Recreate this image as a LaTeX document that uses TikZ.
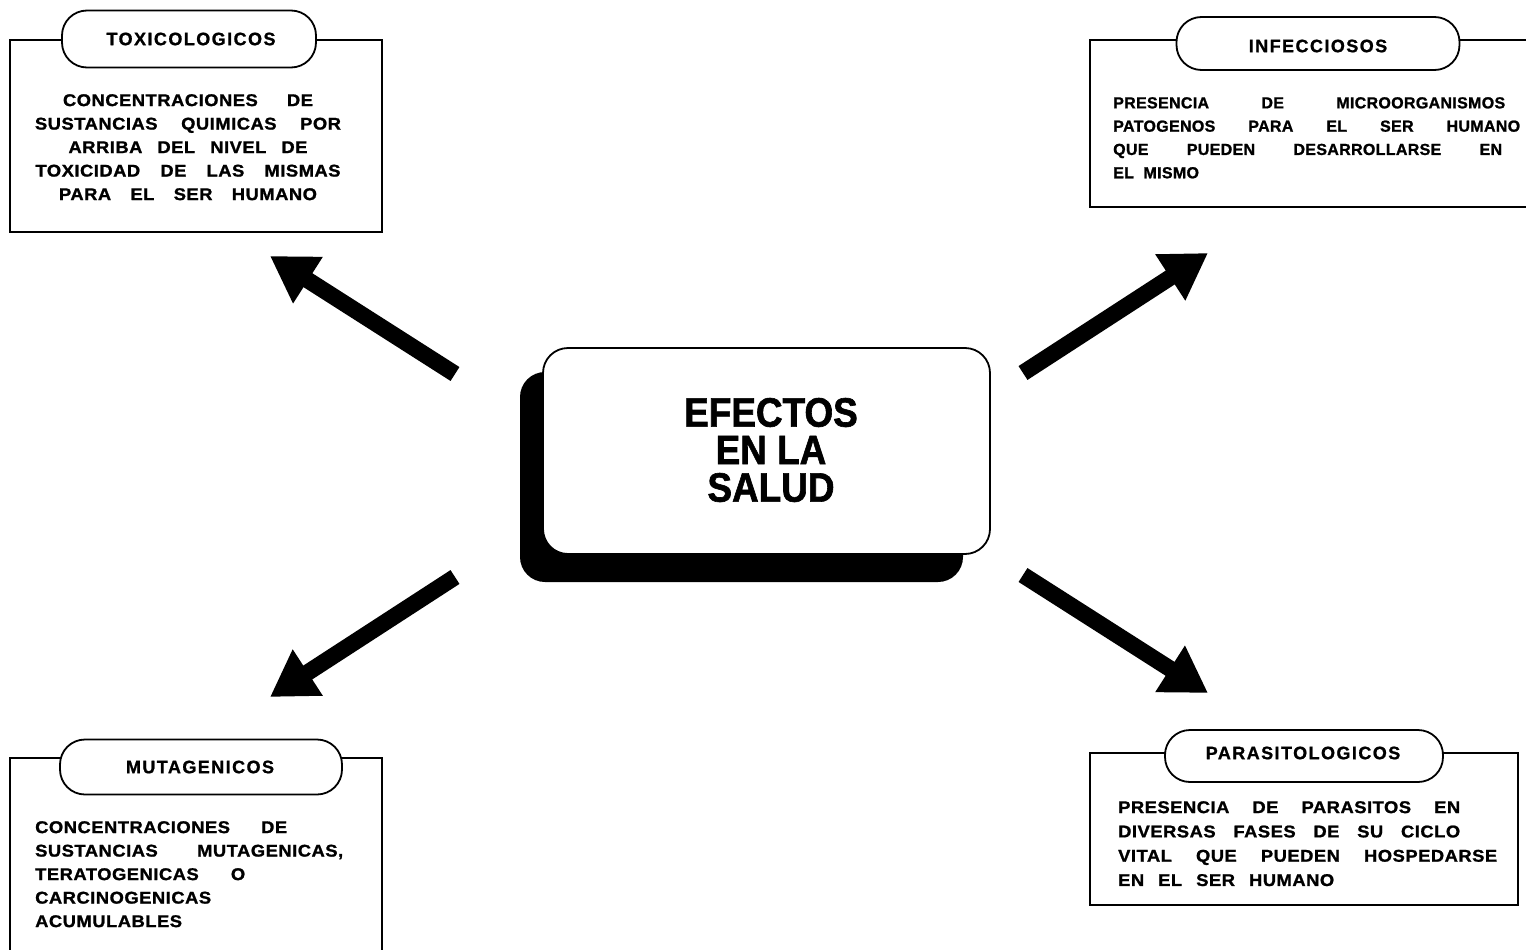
\documentclass[tikz,border=0pt]{standalone}
\usepackage{fontspec}
\usetikzlibrary{arrows.meta}
\setmainfont{Liberation Sans}
\newfontfamily\titlefont[LetterSpace=8,FakeBold=1]{Liberation Sans}
\newfontfamily\bodyfont[LetterSpace=3,WordSpace=2.5,FakeBold=1.2,FakeStretch=1.08]{Liberation Sans}
\newfontfamily\bodyfontnarrow[LetterSpace=2,WordSpace=2,FakeBold=1.2]{Liberation Sans}
\newfontfamily\bigfont[FakeStretch=0.9,FakeBold=1.5]{Liberation Sans}

\tikzset{
  frame/.style={draw, line width=1.8pt, fill=white, inner sep=0pt},
  capsule/.style={draw, line width=1.8pt, fill=white, rounded corners=25pt, inner sep=0pt},
  captext/.style={inner sep=0pt, font=\titlefont\fontsize{18}{18}\selectfont\bfseries},
  bodytext/.style={inner sep=0pt, font=\bodyfont\fontsize{17}{23.5}\selectfont\bfseries},
  bodytextnarrow/.style={inner sep=0pt, font=\bodyfontnarrow\fontsize{16}{23.3}\selectfont\bfseries},
  mainbox/.style={draw, line width=1.8pt, fill=white, rounded corners=25pt, inner sep=0pt},
  shadowbox/.style={fill=black, rounded corners=25pt, inner sep=0pt},
  bigarrow/.style={line width=16.5pt, -{Triangle[length=45pt,width=52pt]}},
}

\begin{document}
\begin{tikzpicture}[x=1pt, y=-1pt]
\useasboundingbox (0,0) rectangle (1526,950);
\clip (0,0) rectangle (1526,950);
\fill[white] (0,0) rectangle (1526,950);

% central node with its drop shadow
\node[shadowbox, minimum width=443pt, minimum height=210pt] (shadow) at (741.5,477) {};
\node[mainbox, minimum width=447pt, minimum height=206pt] (main) at (766.5,451) {};
\node[inner sep=0pt, align=center, font=\bigfont\fontsize{41}{37.5}\selectfont\bfseries] (maintext) at (771,450) {EFECTOS\\EN LA\\SALUD};

% toxicologicos
\node[frame, minimum width=372pt, minimum height=192pt] (toxbox) at (196,136) {};
\node[capsule, minimum width=254pt, minimum height=57pt] (toxcap) at (189,39) {};
\node[captext] (toxtitle) at (191,39) {TOXICOLOGICOS};
\node[bodytext, align=center, anchor=north] (toxbody) at (188,94) {%
\makebox[250pt][s]{CONCENTRACIONES DE}\\
\makebox[306pt][s]{SUSTANCIAS QUIMICAS POR}\\
\makebox[239pt][s]{ARRIBA DEL NIVEL DE}\\
\makebox[305pt][s]{TOXICIDAD DE LAS MISMAS}\\
\makebox[258pt][s]{PARA EL SER HUMANO}};

% infecciosos
\node[frame, minimum width=440pt, minimum height=167pt] (infbox) at (1310,123.5) {};
\node[capsule, minimum width=283pt, minimum height=53pt] (infcap) at (1318,43.5) {};
\node[captext] (inftitle) at (1318,46) {INFECCIOSOS};
\node[bodytextnarrow, align=left, anchor=north west] (infbody) at (1113,97) {%
\makebox[392pt][s]{PRESENCIA DE MICROORGANISMOS}\\
\makebox[407pt][s]{PATOGENOS PARA EL SER HUMANO}\\
\makebox[389pt][s]{QUE PUEDEN DESARROLLARSE EN}\\
EL MISMO};

% mutagenicos
\node[frame, minimum width=372pt, minimum height=202pt] (mutbox) at (196,859) {};
\node[capsule, minimum width=282pt, minimum height=55pt] (mutcap) at (201,767) {};
\node[captext] (muttitle) at (200,767) {MUTAGENICOS};
\node[bodytext, align=left, anchor=north west] (mutbody) at (35,821) {%
\makebox[252pt][s]{CONCENTRACIONES DE}\\
\makebox[308pt][s]{SUSTANCIAS MUTAGENICAS,}\\
\makebox[210pt][s]{TERATOGENICAS O}\\
CARCINOGENICAS\\
ACUMULABLES};

% parasitologicos
\node[frame, minimum width=428pt, minimum height=152pt] (parbox) at (1304,829) {};
\node[capsule, minimum width=278pt, minimum height=52pt] (parcap) at (1304,756) {};
\node[captext] (partitle) at (1303,753) {PARASITOLOGICOS};
\node[bodytext, align=left, anchor=north west, font=\bodyfont\fontsize{17}{24.3}\selectfont\bfseries] (parbody) at (1118,801) {%
\makebox[342pt][s]{PRESENCIA DE PARASITOS EN}\\
\makebox[342pt][s]{DIVERSAS FASES DE SU CICLO}\\
\makebox[379pt][s]{VITAL QUE PUEDEN HOSPEDARSE}\\
EN EL SER HUMANO};

% arrows radiating from the central node
\coordinate (nwtail) at (455,374);
\coordinate (nwtip)  at (270,256);
\coordinate (netail) at (1023,373);
\coordinate (netip)  at (1208,253);
\coordinate (swtail) at (455,577);
\coordinate (swtip)  at (270,697);
\coordinate (setail) at (1023,575);
\coordinate (setip)  at (1208,693);
\draw[bigarrow] (nwtail) -- (nwtip);
\draw[bigarrow] (netail) -- (netip);
\draw[bigarrow] (swtail) -- (swtip);
\draw[bigarrow] (setail) -- (setip);
\end{tikzpicture}
\end{document}
